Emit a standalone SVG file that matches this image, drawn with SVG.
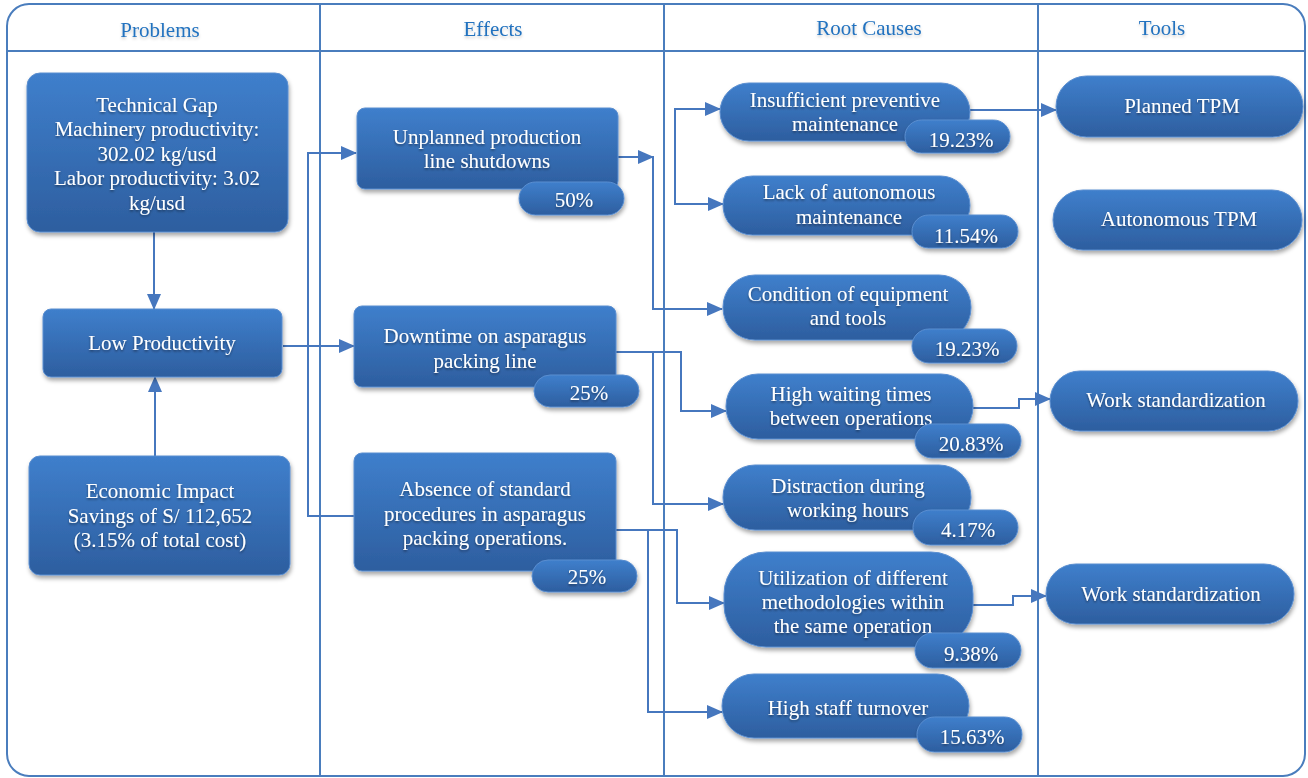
<svg xmlns="http://www.w3.org/2000/svg" width="1308" height="778" viewBox="0 0 1308 778">
  <style>
    .frame { fill: #ffffff; stroke: #4A7DBD; stroke-width: 2; }
    .grid { stroke: #4A7DBD; stroke-width: 2; fill: none; }
    .head { font-family: "Liberation Serif", "Times New Roman", serif; font-size: 21px; fill: #2272BF; text-anchor: middle; filter: url(#tshadowLight); }
    .box { fill: url(#boxGrad); stroke: #5A8ED0; stroke-width: 1; filter: url(#bshadow); }
    .lbl { font-family: "Liberation Serif", "Times New Roman", serif; font-size: 21px; fill: #ffffff; text-anchor: middle; filter: url(#tshadow); }
    .conn { fill: none; stroke: #4677BE; stroke-width: 2; }
  </style>
  <defs>
    <linearGradient id="boxGrad" x1="0" y1="0" x2="0" y2="1">
      <stop offset="0" stop-color="#3F7FCC"/>
      <stop offset="1" stop-color="#2D5E9F"/>
    </linearGradient>
    <filter id="bshadow" x="-10%" y="-10%" width="120%" height="140%">
      <feDropShadow dx="1" dy="3" stdDeviation="2" flood-color="#000000" flood-opacity="0.35"/>
    </filter>
    <filter id="tshadow" x="-10%" y="-30%" width="120%" height="160%">
      <feDropShadow dx="0" dy="1.5" stdDeviation="1" flood-color="#000000" flood-opacity="0.45"/>
    </filter>
    <filter id="tshadowLight" x="-10%" y="-30%" width="120%" height="160%">
      <feDropShadow dx="0" dy="2" stdDeviation="1.5" flood-color="#000000" flood-opacity="0.2"/>
    </filter>
    <marker id="arrow" markerUnits="userSpaceOnUse" markerWidth="16" markerHeight="14" refX="15" refY="7" orient="auto">
      <path d="M0,0 L16,7 L0,14 Z" fill="#4677BE"/>
    </marker>
  </defs>

  <!-- table frame and column grid -->
  <g id="frame">
    <rect class="frame" x="7" y="4" width="1298" height="772" rx="22" ry="22"/>
    <path class="grid" d="M7,51 H1305 M320,4 V776 M664,4 V776 M1038,4 V776"/>
    <text class="head" x="160" y="37">Problems</text>
    <text class="head" x="493" y="36">Effects</text>
    <text class="head" x="869" y="35">Root Causes</text>
    <text class="head" x="1162" y="35">Tools</text>
  </g>

  <!-- connectors -->
  <g id="connectors">
    <path class="conn" d="M154,232 V309" marker-end="url(#arrow)"/>
    <path class="conn" d="M155,456 V377" marker-end="url(#arrow)"/>
    <path class="conn" d="M283,346 H354" marker-end="url(#arrow)"/>
    <path class="conn" d="M354,516 H308 V153 H356" marker-end="url(#arrow)"/>
    <path class="conn" d="M618,157 H653" marker-end="url(#arrow)"/>
    <path class="conn" d="M653,156 V309 H722" marker-end="url(#arrow)"/>
    <path class="conn" d="M675,204 V109 H720" marker-end="url(#arrow)"/>
    <path class="conn" d="M675,109 V204 H723" marker-end="url(#arrow)"/>
    <path class="conn" d="M616,352 H681 V411 H726" marker-end="url(#arrow)"/>
    <path class="conn" d="M653,352 V504 H723" marker-end="url(#arrow)"/>
    <path class="conn" d="M616,530 H677 V603 H724" marker-end="url(#arrow)"/>
    <path class="conn" d="M648,530 V712 H722" marker-end="url(#arrow)"/>
    <path class="conn" d="M970,110 H1056" marker-end="url(#arrow)"/>
    <path class="conn" d="M973,408 H1019 V399 H1050" marker-end="url(#arrow)"/>
    <path class="conn" d="M973,605 H1013 V596 H1046" marker-end="url(#arrow)"/>
  </g>

  <!-- Problems -->
  <g id="technical-gap">
    <rect class="box" x="27" y="73" width="261" height="159" rx="13"/>
    <text class="lbl" x="157" y="112">Technical Gap</text>
    <text class="lbl" x="157" y="136">Machinery productivity:</text>
    <text class="lbl" x="157" y="161">302.02 kg/usd</text>
    <text class="lbl" x="157" y="185">Labor productivity: 3.02</text>
    <text class="lbl" x="157" y="210">kg/usd</text>
  </g>
  <g id="low-productivity">
    <rect class="box" x="43" y="309" width="239" height="68" rx="8"/>
    <text class="lbl" x="162" y="350">Low Productivity</text>
  </g>
  <g id="economic-impact">
    <rect class="box" x="29" y="456" width="261" height="119" rx="11"/>
    <text class="lbl" x="160" y="498">Economic Impact</text>
    <text class="lbl" x="160" y="523">Savings of S/ 112,652</text>
    <text class="lbl" x="160" y="547">(3.15% of total cost)</text>
  </g>

  <!-- Effects -->
  <g id="unplanned-shutdowns">
    <rect class="box" x="357" y="108" width="261" height="81" rx="8"/>
    <text class="lbl" x="487" y="144">Unplanned production</text>
    <text class="lbl" x="487" y="168">line shutdowns</text>
    <rect class="box" x="519" y="182" width="105" height="33" rx="16.5"/>
    <text class="lbl" x="574" y="207">50%</text>
  </g>
  <g id="downtime">
    <rect class="box" x="354" y="306" width="262" height="81" rx="8"/>
    <text class="lbl" x="485" y="343">Downtime on asparagus</text>
    <text class="lbl" x="485" y="368">packing line</text>
    <rect class="box" x="534" y="375" width="105" height="32" rx="16"/>
    <text class="lbl" x="589" y="400">25%</text>
  </g>
  <g id="absence-procedures">
    <rect class="box" x="354" y="453" width="262" height="118" rx="8"/>
    <text class="lbl" x="485" y="496">Absence of standard</text>
    <text class="lbl" x="485" y="521">procedures in asparagus</text>
    <text class="lbl" x="485" y="545">packing operations.</text>
    <rect class="box" x="532" y="560" width="105" height="32" rx="16"/>
    <text class="lbl" x="587" y="584">25%</text>
  </g>

  <!-- Root causes -->
  <g id="insufficient-maintenance">
    <rect class="box" x="720" y="83" width="250" height="58" rx="29"/>
    <text class="lbl" x="845" y="107">Insufficient preventive</text>
    <text class="lbl" x="845" y="131">maintenance</text>
    <rect class="box" x="905" y="120" width="105" height="33" rx="16.5"/>
    <text class="lbl" x="961" y="147">19.23%</text>
  </g>
  <g id="lack-autonomous">
    <rect class="box" x="723" y="176" width="247" height="59" rx="29.5"/>
    <text class="lbl" x="849" y="199">Lack of autonomous</text>
    <text class="lbl" x="849" y="224">maintenance</text>
    <rect class="box" x="912" y="215" width="106" height="33" rx="16.5"/>
    <text class="lbl" x="966" y="243">11.54%</text>
  </g>
  <g id="equipment-condition">
    <rect class="box" x="723" y="275" width="248" height="65" rx="32"/>
    <text class="lbl" x="848" y="301">Condition of equipment</text>
    <text class="lbl" x="848" y="325">and tools</text>
    <rect class="box" x="912" y="329" width="105" height="34" rx="17"/>
    <text class="lbl" x="967" y="356">19.23%</text>
  </g>
  <g id="waiting-times">
    <rect class="box" x="726" y="374" width="247" height="65" rx="32"/>
    <text class="lbl" x="851" y="401">High waiting times</text>
    <text class="lbl" x="851" y="425">between operations</text>
    <rect class="box" x="915" y="424" width="106" height="34" rx="17"/>
    <text class="lbl" x="971" y="451">20.83%</text>
  </g>
  <g id="distraction">
    <rect class="box" x="723" y="465" width="248" height="65" rx="32"/>
    <text class="lbl" x="848" y="493">Distraction during</text>
    <text class="lbl" x="848" y="517">working hours</text>
    <rect class="box" x="913" y="510" width="105" height="35" rx="17.5"/>
    <text class="lbl" x="968" y="537">4.17%</text>
  </g>
  <g id="different-methodologies">
    <rect class="box" x="724" y="552" width="249" height="95" rx="42"/>
    <text class="lbl" x="853" y="585">Utilization of different</text>
    <text class="lbl" x="853" y="609">methodologies within</text>
    <text class="lbl" x="853" y="633">the same operation</text>
    <rect class="box" x="915" y="633" width="106" height="35" rx="17.5"/>
    <text class="lbl" x="971" y="661">9.38%</text>
  </g>
  <g id="staff-turnover">
    <rect class="box" x="722" y="674" width="247" height="64" rx="32"/>
    <text class="lbl" x="848" y="715">High staff turnover</text>
    <rect class="box" x="917" y="717" width="105" height="35" rx="17.5"/>
    <text class="lbl" x="972" y="744">15.63%</text>
  </g>

  <!-- Tools -->
  <g id="planned-tpm">
    <rect class="box" x="1056" y="76" width="247" height="61" rx="30.5"/>
    <text class="lbl" x="1182" y="113">Planned TPM</text>
  </g>
  <g id="autonomous-tpm">
    <rect class="box" x="1053" y="190" width="249" height="60" rx="30"/>
    <text class="lbl" x="1179" y="226">Autonomous TPM</text>
  </g>
  <g id="work-standardization-1">
    <rect class="box" x="1050" y="371" width="248" height="60" rx="30"/>
    <text class="lbl" x="1176" y="407">Work standardization</text>
  </g>
  <g id="work-standardization-2">
    <rect class="box" x="1046" y="564" width="248" height="60" rx="30"/>
    <text class="lbl" x="1171" y="601">Work standardization</text>
  </g>
</svg>
